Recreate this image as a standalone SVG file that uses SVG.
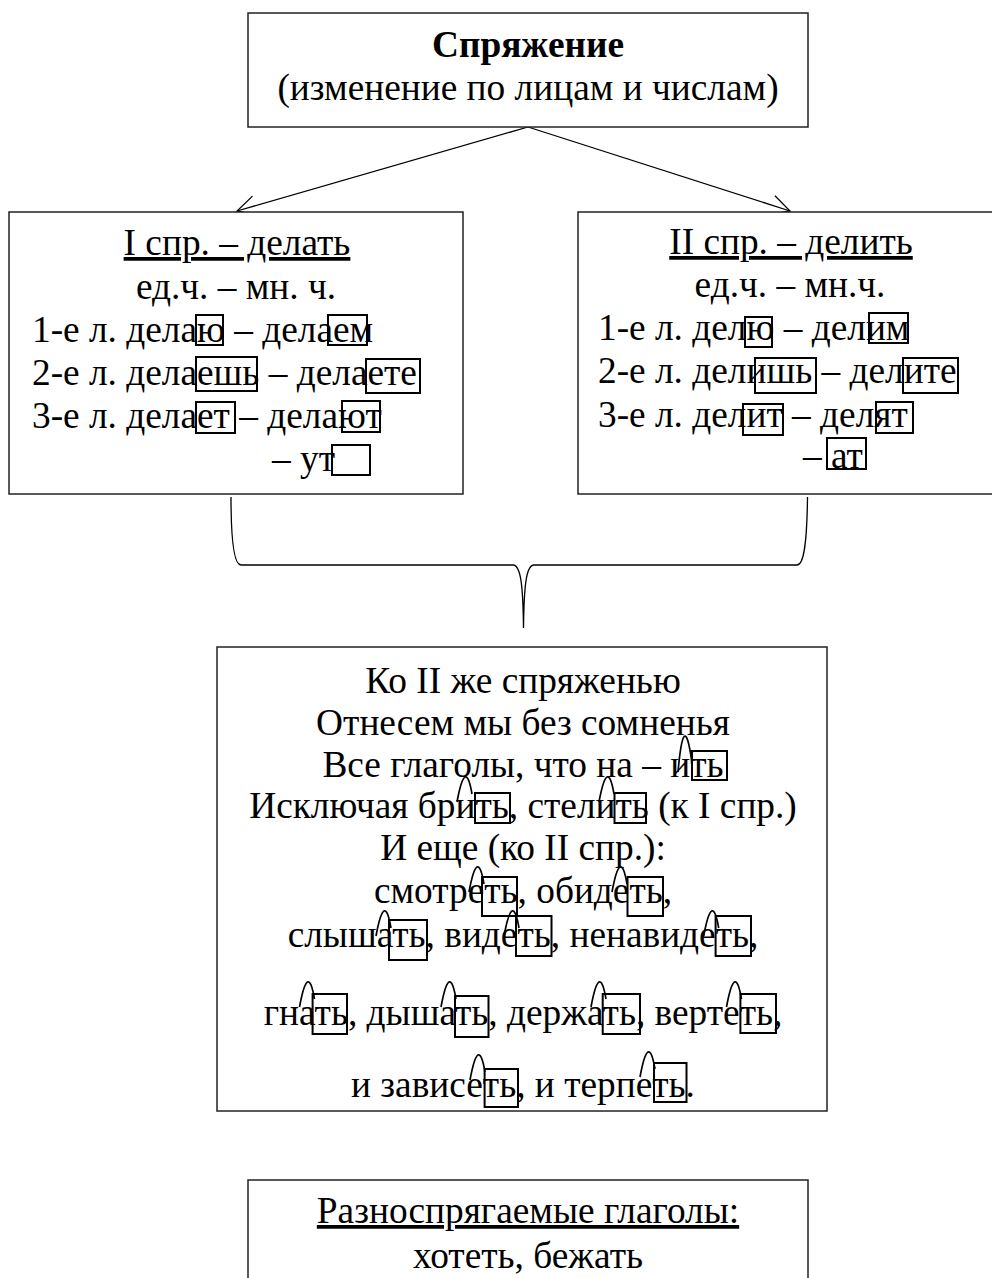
<svg xmlns="http://www.w3.org/2000/svg" xmlns:xlink="http://www.w3.org/1999/xlink" width="992" height="1278" viewBox="0 0 992 1278">
<style>
  text { font-family: "Liberation Serif", "Times New Roman", serif; font-size: 37.33px; fill: #000; }
  .c { text-anchor: middle; }
  .u { text-decoration: underline; }
  .b { font-weight: bold; }
  .box { fill: #fff; stroke: #222; stroke-width: 1.5; }
  .e { fill: none; stroke: #000; stroke-width: 2; }
  .arc { fill: none; stroke: #000; stroke-width: 1.7; }
  .conn { fill: none; stroke: #000; stroke-width: 1.3; }
</style>
<defs>
  <marker id="arr" markerUnits="userSpaceOnUse" markerWidth="30" markerHeight="30" viewBox="-25 -15 30 30" refX="0" refY="0" orient="auto">
    <path d="M-19,-10 L0,0 L-19,10" fill="none" stroke="#000" stroke-width="1.3"/>
  </marker>
  <path id="arch" class="arc" d="M-8,24 Q0.5,-22 7,16"/>
  <path id="archT" class="arc" d="M-6,34 Q0,-33 8,25"/>
</defs>
<rect width="992" height="1278" fill="#fff"/>

<g id="connectors">
  <line class="conn" x1="528" y1="127" x2="237" y2="211" marker-end="url(#arr)"/>
  <line class="conn" x1="528" y1="127" x2="790" y2="211" marker-end="url(#arr)"/>
  <path class="conn" d="M231,497 C231,542 234,565 241,565 L513,565 C521,565 523,587 523.5,628 C524,587 526,565 534,565 L797,565 C804,565 807,542 807.5,497"/>
</g>

<g id="top">
  <rect class="box" x="248" y="13" width="560" height="114"/>
  <text class="c b" x="528" y="57">Спряжение</text>
  <text class="c" x="528" y="100">(изменение по лицам и числам)</text>
</g>

<g id="left">
  <rect class="box" x="9" y="212" width="454" height="282"/>
  <text class="c u" x="237" y="255">I спр. – делать</text>
  <text class="c" x="236" y="299">ед.ч. – мн. ч.</text>
  <text x="32" y="342">1-е л. делаю – делаем</text>
  <text x="32" y="385">2-е л. делаешь – делаете</text>
  <text x="32" y="428">3-е л. делает – делают</text>
  <text x="272" y="471">– ут</text>
  <rect class="e" x="196" y="315" width="27" height="30"/>
  <rect class="e" x="328" y="315" width="39" height="30"/>
  <rect class="e" x="196" y="357" width="61" height="34"/>
  <rect class="e" x="366" y="359" width="54" height="34"/>
  <rect class="e" x="196" y="402" width="39" height="31"/>
  <rect class="e" x="342" y="401" width="38" height="31"/>
  <rect class="e" x="332" y="445" width="38" height="30"/>
</g>

<g id="right">
  <rect class="box" x="578" y="212" width="430" height="282"/>
  <text class="c u" x="791" y="254">II спр. – делить</text>
  <text class="c" x="790" y="297">ед.ч. – мн.ч.</text>
  <text x="598" y="340">1-е л. делю – делим</text>
  <text x="598" y="383">2-е л. делишь – делите</text>
  <text x="598" y="427">3-е л. делит – делят</text>
  <text x="803" y="468">– ат</text>
  <rect class="e" x="745" y="317" width="27" height="30"/>
  <rect class="e" x="869" y="313" width="39" height="30"/>
  <rect class="e" x="755" y="358" width="61" height="35"/>
  <rect class="e" x="903" y="358" width="55" height="35"/>
  <rect class="e" x="743" y="404" width="40" height="31"/>
  <rect class="e" x="876" y="402" width="37" height="31"/>
  <rect class="e" x="827" y="438" width="39" height="31"/>
</g>

<g id="rule">
  <rect class="box" x="217" y="647" width="610" height="464"/>
  <text class="c" x="523" y="693">Ко II же спряженью</text>
  <text class="c" x="523" y="735">Отнесем мы без сомненья</text>
  <text class="c" x="523" y="777">Все глаголы, что на – ить</text>
  <text class="c" x="523" y="818">Исключая брить, стелить (к I спр.)</text>
  <text class="c" x="523" y="860">И еще (ко II спр.):</text>
  <text class="c" x="523" y="903">смотреть, обидеть,</text>
  <text class="c" x="523" y="947">слышать, видеть, ненавидеть,</text>
  <text class="c" x="523" y="1025">гнать, дышать, держать, вертеть,</text>
  <text class="c" x="523" y="1097">и зависеть, и терпеть.</text>

  <rect class="e" x="692" y="751" width="35" height="29"/>
  <use xlink:href="#archT" x="684" y="738"/>

  <rect class="e" x="475" y="793" width="35" height="30"/>
  <use xlink:href="#arch" x="465" y="778"/>
  <rect class="e" x="614.5" y="793" width="31.5" height="30"/>
  <use xlink:href="#arch" x="607" y="778"/>

  <rect class="e" x="482" y="877" width="35" height="39"/>
  <use xlink:href="#arch" x="477" y="868"/>
  <rect class="e" x="627.5" y="877" width="35.5" height="39"/>
  <use xlink:href="#arch" x="620" y="868"/>

  <rect class="e" x="389" y="920" width="38" height="40"/>
  <use xlink:href="#arch" x="384" y="912"/>
  <rect class="e" x="516" y="916" width="35.5" height="40"/>
  <use xlink:href="#arch" x="512" y="912"/>
  <rect class="e" x="715.6" y="916" width="35.4" height="40"/>
  <use xlink:href="#arch" x="711.7" y="912"/>

  <rect class="e" x="312.6" y="994" width="34.4" height="40"/>
  <use xlink:href="#arch" x="307.5" y="983"/>
  <rect class="e" x="455" y="996" width="33.5" height="41"/>
  <use xlink:href="#arch" x="449" y="983"/>
  <rect class="e" x="602.7" y="994" width="37.3" height="40"/>
  <use xlink:href="#arch" x="599" y="983"/>
  <rect class="e" x="740.4" y="994" width="35.6" height="39"/>
  <use xlink:href="#arch" x="734.5" y="983"/>

  <rect class="e" x="484.6" y="1069" width="33.4" height="38"/>
  <use xlink:href="#arch" x="478" y="1056"/>
  <rect class="e" x="654" y="1063" width="32.5" height="39"/>
  <use xlink:href="#arch" x="648" y="1053"/>
</g>

<g id="irregular">
  <rect class="box" x="248" y="1180" width="560" height="110"/>
  <text class="c u" x="528" y="1223">Разноспрягаемые глаголы:</text>
  <text class="c" x="528" y="1268">хотеть, бежать</text>
</g>
</svg>
